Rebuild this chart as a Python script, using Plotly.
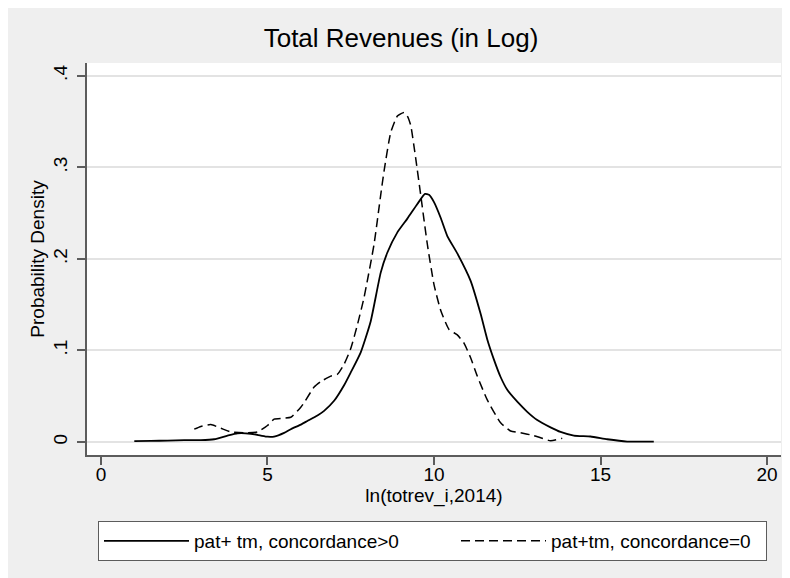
import plotly.graph_objects as go

# Kernel density estimates
x_pos = [1.0, 1.5, 2.0, 2.5, 3.0, 3.4, 3.8, 4.1, 4.5, 4.8, 5.0, 5.2, 5.5, 5.7, 6.0, 6.2, 6.5, 6.7,
         7.0, 7.3, 7.5, 7.8, 8.1, 8.4, 8.6, 8.9, 9.2, 9.5, 9.73, 9.85, 10.0, 10.2, 10.4, 10.7, 11.1,
         11.4, 11.6, 11.8, 12.0, 12.2, 12.5, 12.8, 13.1, 13.5, 13.8, 14.2, 14.7, 15.2, 15.8, 16.6]
y_pos = [0.001, 0.0012, 0.0015, 0.002, 0.002, 0.003, 0.007, 0.0095, 0.009, 0.007, 0.0058, 0.006,
         0.010, 0.014, 0.019, 0.023, 0.029, 0.034, 0.045, 0.062, 0.076, 0.098, 0.132, 0.185, 0.207,
         0.229, 0.244, 0.260, 0.271, 0.270, 0.262, 0.245, 0.225, 0.206, 0.176, 0.140, 0.112, 0.090,
         0.071, 0.057, 0.044, 0.033, 0.024, 0.016, 0.011, 0.007, 0.006, 0.003, 0.0005, 0.0004]

x_zero = [2.8, 3.0, 3.3, 3.6, 3.9, 4.3, 4.7, 5.0, 5.2, 5.5, 5.7, 6.0, 6.1, 6.4, 6.6, 6.9, 7.1, 7.3,
          7.5, 7.7, 7.9, 8.2, 8.4, 8.5, 8.7, 8.9, 9.1, 9.2, 9.3, 9.45, 9.6, 9.8, 10.0, 10.2, 10.45,
          10.7, 10.9, 11.1, 11.3, 11.6, 12.0, 12.3, 12.6, 13.0, 13.5, 13.85]
y_zero = [0.014, 0.017, 0.019, 0.015, 0.011, 0.010, 0.011, 0.018, 0.025, 0.026, 0.027, 0.038, 0.043,
          0.060, 0.066, 0.072, 0.074, 0.085, 0.102, 0.128, 0.158, 0.216, 0.270, 0.296, 0.338, 0.356,
          0.360, 0.356, 0.346, 0.310, 0.270, 0.216, 0.172, 0.144, 0.123, 0.117, 0.108, 0.092, 0.072,
          0.046, 0.021, 0.012, 0.010, 0.007, 0.0014, 0.004]

x_ticks = [0, 5, 10, 15, 20]
y_ticks = [0, 0.1, 0.2, 0.3, 0.4]
y_tick_labels = ["0", ".1", ".2", ".3", ".4"]

names = ["pat+ tm, concordance>0", "pat+tm, concordance=0"]

FONT = "Liberation Sans, Arial, Helvetica, sans-serif"
GRAY_BG = "#efefef"
AXIS = "#5c5c5c"

# figure size (page body margin of 8px gives the thin white strip at top/left)
W, H = 782, 570
L, R, T, B = 79, 9, 55, 123
pw, ph = W - L - R, H - T - B

fig = go.Figure()
fig.add_trace(go.Scatter(x=x_pos, y=y_pos, mode="lines", name=names[0],
                         line=dict(color="black", width=1.8, shape="spline", smoothing=0.5),
                         legendwidth=257))
fig.add_trace(go.Scatter(x=x_zero, y=y_zero, mode="lines", name=names[1],
                         line=dict(color="black", width=1.5, dash="9px,5px", shape="spline", smoothing=0.5),
                         legendwidth=210))

fig.update_layout(
    width=W, height=H,
    margin=dict(l=L, r=R, t=T, b=B),
    paper_bgcolor=GRAY_BG,
    plot_bgcolor="white",
    font=dict(family=FONT, color="black", size=18),
    title=dict(text="Total Revenues (in Log)", x=393 / W, xanchor="center",
               y=1 - 30 / H, yanchor="middle", font=dict(size=26, family=FONT)),
    xaxis=dict(range=[-0.42, 20.42], tickvals=x_ticks, ticks="outside", ticklen=8,
               tickcolor=AXIS, tickwidth=1.5, showline=True, linecolor=AXIS, linewidth=1.5,
               showgrid=False, zeroline=False, tickfont=dict(size=19), ticklabelstandoff=-7,
               title=dict(text="ln(totrev_i,2014)", font=dict(size=19), standoff=0)),
    yaxis=dict(range=[-0.0142, 0.414], tickvals=y_ticks, ticktext=y_tick_labels, tickangle=-90,
               ticks="outside", ticklen=8, tickcolor=AXIS, tickwidth=1.5, showline=True,
               linecolor=AXIS, linewidth=1.5, showgrid=True, gridcolor="#e3e3e3", gridwidth=1.5,
               zeroline=False, tickfont=dict(size=19), ticklabelstandoff=3,
               title=dict(text="Probability Density", font=dict(size=19), standoff=0)),
    legend=dict(orientation="h", x=(90 - L) / pw, xanchor="left", y=(H - B - 513) / ph,
                yanchor="top", bgcolor="white", bordercolor=AXIS, borderwidth=1,
                font=dict(size=19), itemwidth=85, tracegroupgap=0),
    showlegend=True,
)

fig.write_html("out.html")
